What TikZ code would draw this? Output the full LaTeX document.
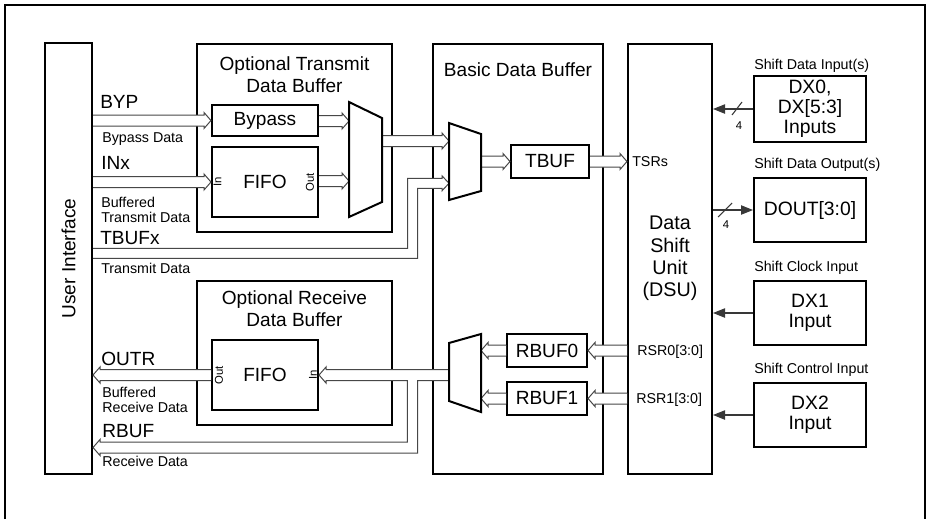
\documentclass[tikz,border=0pt]{standalone}
\usepackage{fontspec}
\setmainfont{Liberation Sans}
\usetikzlibrary{arrows.meta,calc}
\newcommand{\fBig}{\fontsize{14.3}{16.5}\selectfont}
\newcommand{\fBox}{\fontsize{14.5}{15}\selectfont}
\newcommand{\fDsu}{\fontsize{14.8}{16.7}\selectfont}
\newcommand{\fSmall}{\fontsize{10.7}{11}\selectfont}
\newcommand{\fTiny}{\fontsize{8.5}{9}\selectfont}
\newcommand{\hR}[2]{\draw[hol] ($(#1 |- #2)+(0,-5.5)$) -- ($(#2)+(-7,-5.5)$) -- ($(#2)+(-7,-8)$) -- (#2) -- ($(#2)+(-7,8)$) -- ($(#2)+(-7,5.5)$) -- ($(#1 |- #2)+(0,5.5)$);}
\newcommand{\hL}[2]{\draw[hol] ($(#1 |- #2)+(0,-5.5)$) -- ($(#2)+(7,-5.5)$) -- ($(#2)+(7,-8)$) -- (#2) -- ($(#2)+(7,8)$) -- ($(#2)+(7,5.5)$) -- ($(#1 |- #2)+(0,5.5)$);}
\newcommand{\bx}[7][]{\node[box,#1,minimum width={(#5-#3)*0.75pt},minimum height={(#6-#4)*0.75pt}] (#2) at ({(#3+#5)/2},{(#4+#6)/2}) {#7};}
\begin{document}
\begin{tikzpicture}[x=0.75pt,y=-0.75pt,
  box/.style={draw,line width=1.5pt,inner sep=0pt,align=center,font=\fBig},
  hol/.style={draw=black!72,line width=0.75pt,fill=white,line join=miter},
  mux/.style={draw,line width=1.5pt,line join=miter},
  conn/.style={draw=black!78,line width=0.8pt},
  tip/.style={-{Triangle[length=9pt,width=7pt]}},
  big/.style={inner sep=0pt,font=\fBig},
  sml/.style={inner sep=0pt,font=\fSmall},
  tny/.style={inner sep=0pt,font=\fTiny}]
\useasboundingbox (0,0) rectangle (927,519);
\draw[line width=1.5pt] (5,519) -- (5,5) -- (925,5) -- (925,519);
% boxes
\bx{ui}{45}{43}{92}{474}{}
\bx{otb}{197}{44}{392}{232}{}
\bx{bypass}{212}{105}{318}{136}{Bypass}
\bx{tfifo}{212}{147}{318}{217}{FIFO}
\bx{bdb}{433}{44}{603}{474}{}
\bx{tbuf}{511}{145}{589}{178}{TBUF}
\bx{dsu}{628}{44}{712}{474}{}
\bx[font=\fBox]{dx0}{754}{76}{866}{142}{DX0,\\DX[5:3]\\Inputs}
\bx[font=\fBox]{dout}{754}{178}{866}{242}{DOUT[3:0]}
\bx[font=\fBox]{dx1}{754}{281}{866}{345}{DX1\\Input}
\bx[font=\fBox]{dx2}{754}{383}{866}{447}{DX2\\Input}
\bx{orb}{197}{281}{392}{425}{}
\bx{rfifo}{212}{340}{318}{410}{FIFO}
\bx{rbuf0}{507}{334}{587}{367}{RBUF0}
\bx{rbuf1}{507}{382}{587}{415}{RBUF1}
% box texts
\node[big,rotate=90] (uit) at (68.5,258.5) {User Interface};
\node[big,anchor=north,align=center] (otbt) at (294.5,56) {Optional Transmit\\Data Buffer};
\node[big,anchor=north] (bdbt) at (518,62) {Basic Data Buffer};
\node[big,anchor=north,align=center] (orbt) at (294.5,290) {Optional Receive\\Data Buffer};
\node[inner sep=0pt,font=\fDsu,align=center] (dsut) at (670,258.5) {Data\\Shift\\Unit\\(DSU)};
\node[tny,rotate=90] (tin) at (217.5,182) {In};
\node[tny,rotate=90] (tout) at (310,182) {Out};
\node[tny,rotate=90] (rout) at (219,375) {Out};
\node[tny,rotate=90] (rin) at (313,375) {In};
% left labels
\node[big,anchor=base west] (lbyp) at (100,108) {BYP};
\node[sml,anchor=base west] (lbyd) at (102,142) {Bypass Data};
\node[big,anchor=base west] (linx) at (101,169) {INx};
\node[sml,anchor=north west,align=left] (lbtd) at (101,197) {Buffered\\Transmit Data};
\node[big,anchor=base west] (ltbx) at (100,244) {TBUFx};
\node[sml,anchor=base west] (ltd) at (101,273) {Transmit Data};
\node[big,anchor=base west] (loutr) at (101,365) {OUTR};
\node[sml,anchor=north west,align=left] (lbrd) at (102,387) {Buffered\\Receive Data};
\node[big,anchor=base west] (lrbuf) at (102,437) {RBUF};
\node[sml,anchor=base west] (lrd) at (102,466) {Receive Data};
% right labels
\node[sml,anchor=base west] (lsdi) at (754,69) {Shift Data Input(s)};
\node[sml,anchor=base west] (lsdo) at (754,168) {Shift Data Output(s)};
\node[sml,anchor=base west] (lsci) at (754,271) {Shift Clock Input};
\node[sml,anchor=base west] (lsct) at (754,373) {Shift Control Input};
\node[sml,anchor=base west] (ltsr) at (632,166) {TSRs};
\node[sml,anchor=base west] (lrsr0) at (637,355) {RSR0[3:0]};
\node[sml,anchor=base west] (lrsr1) at (636,403) {RSR1[3:0]};
% mux ports
\coordinate (m1a) at (349,121);
\coordinate (m1b) at (349,181);
\coordinate (m1o) at (382,141);
\coordinate (m2a) at (449,141);
\coordinate (m2o) at (481,161.5);
\coordinate (m3a) at (481,350.5);
\coordinate (m3b) at (481,398.5);
\coordinate (tsr) at (dsu.west |- tbuf.east);
\coordinate (uo) at (ui.east |- rfifo.west);
% hollow arrows
\hR{ui.east}{bypass.west}
\hR{ui.east}{tfifo.west}
\hR{bypass.east}{m1a}
\hR{tfifo.east}{m1b}
\hR{m1o}{m2a}
\hR{m2o}{tbuf.west}
\hR{tbuf.east}{tsr}
\hL{dsu.west}{rbuf0.east}
\hL{dsu.west}{rbuf1.east}
\hL{rbuf0.west}{m3a}
\hL{rbuf1.west}{m3b}
\hL{rfifo.west}{uo}
% TBUFx bent arrow
\draw[hol] (ui.east |- 0,248.3) -- (407.7,248.3) -- (407.7,178.3) -- (442,178.3) -- (442,175.8) -- (449,183.3) -- (442,190.8) -- (442,188.3) -- (417.7,188.3) -- (417.7,258.3) -- (ui.east |- 0,258.3);
% receive branching arrow
\draw[hol] (449,369.5) -- ($(rfifo.east |- 0,369.5)+(7,0)$) -- ($(rfifo.east |- 0,367)+(7,0)$) -- (rfifo.east) -- ($(rfifo.east |- 0,383)+(7,0)$) -- ($(rfifo.east |- 0,380.5)+(7,0)$) -- (407.3,380.5) -- (407.3,442) -- ($(ui.east |- 0,442)+(7,0)$) -- ($(ui.east |- 0,439.5)+(7,0)$) -- (ui.east |- 0,447.5) -- ($(ui.east |- 0,455.5)+(7,0)$) -- ($(ui.east |- 0,453)+(7,0)$) -- (417.7,453) -- (417.7,380.5) -- (449,380.5);
% muxes
\draw[mux] (349,102) -- (382,118) -- (382,202) -- (349,217) -- cycle;
\draw[mux] (449,123) -- (481,134) -- (481,191) -- (449,200) -- cycle;
\draw[mux] (449,343) -- (481,334) -- (481,412) -- (449,401) -- cycle;
% shift unit connectors
\draw[conn,tip] (dx0.west) -- (dx0.west -| dsu.east);
\draw[conn,tip] (dsu.east |- dout.west) -- (dout.west);
\draw[conn,tip] (dx1.west) -- (dx1.west -| dsu.east);
\draw[conn,tip] (dx2.west) -- (dx2.west -| dsu.east);
\draw[conn] (732,115) -- (742,102);
\node[tny] (n4a) at (739,125.5) {4};
\draw[conn] (718,217) -- (732,203);
\node[tny] (n4b) at (726,224.5) {4};
\end{tikzpicture}
\end{document}
